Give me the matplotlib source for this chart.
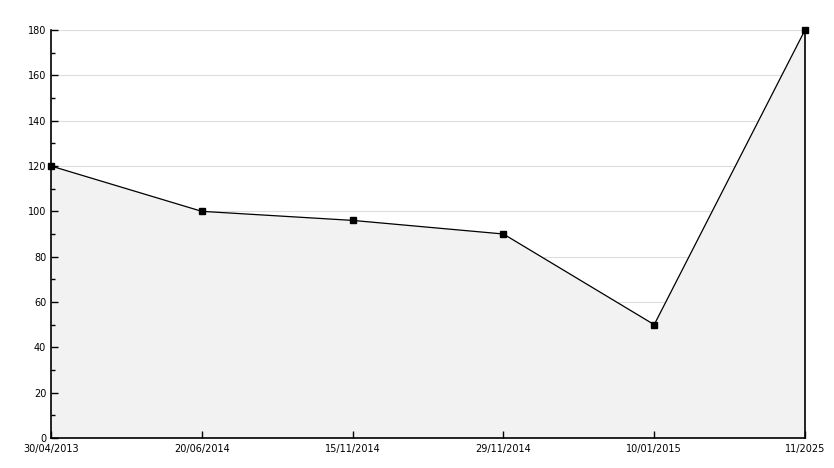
import matplotlib
matplotlib.use('Agg')
import matplotlib.pyplot as plt
import numpy as np

dates = ['30/04/2013', '20/06/2014', '15/11/2014', '29/11/2014', '10/01/2015', '11/2025']
values = [120, 100, 96, 90, 50, 180]
y_major = np.arange(0, 181, 20)
y_minor = np.arange(10, 180, 20)

fig = plt.figure(figsize=(8.34, 4.68), dpi=100)
ax = fig.add_axes([51 / 834, 30 / 468, 754 / 834, 408 / 468])

x = np.arange(len(dates))
# grid lines under the filled area, ticks above it
for yv in y_major[1:]:
    ax.axhline(yv, color='#dddddd', linewidth=0.8, zorder=0.5)
ax.fill_between(x, values, 0, color='#f2f2f2', zorder=1)
ax.plot(x, values, color='black', linewidth=0.9, marker='s', markersize=4,
        zorder=3, clip_on=False)

ax.set_xlim(0, len(dates) - 1)
ax.set_ylim(0, 180)
ax.set_xticks(x)
ax.set_xticklabels(dates, fontsize=7)
ax.set_yticks(y_major)
ax.set_yticks(y_minor, minor=True)
ax.tick_params(axis='y', labelsize=7, direction='in', length=5, width=1)
ax.tick_params(axis='y', which='minor', direction='in', length=3, width=1)
ax.tick_params(axis='x', direction='in', length=5, width=1, pad=4)
ax.set_axisbelow(False)

ax.spines['top'].set_visible(False)
for s in ['left', 'bottom', 'right']:
    ax.spines[s].set_linewidth(1.2)

fig.savefig('out.png', dpi=100)
